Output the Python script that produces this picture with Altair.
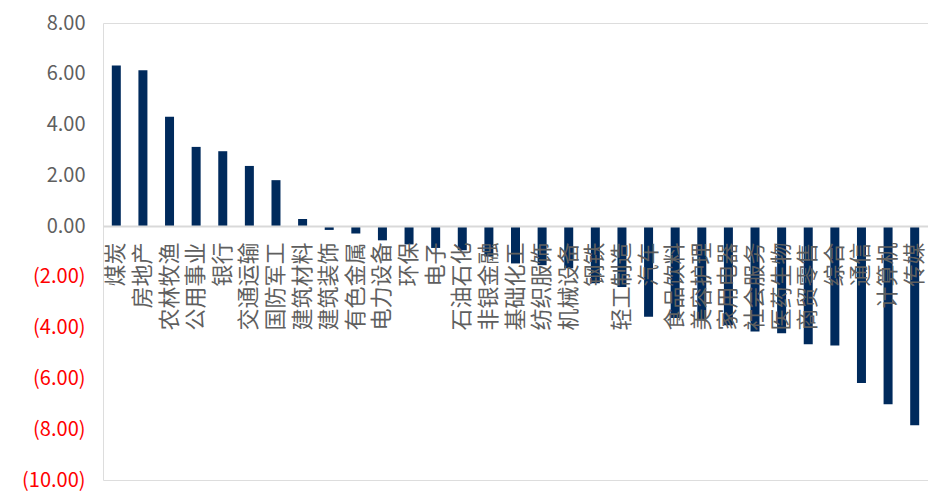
import altair as alt
import pandas as pd

industries = ["煤炭", "房地产", "农林牧渔", "公用事业", "银行", "交通运输", "国防军工", "建筑材料",
              "建筑装饰", "有色金属", "电力设备", "环保", "电子", "石油石化", "非银金融", "基础化工",
              "纺织服饰", "机械设备", "钢铁", "轻工制造", "汽车", "食品饮料", "美容护理", "家用电器",
              "社会服务", "医药生物", "商贸零售", "综合", "通信", "计算机", "传媒"]
values = [6.33, 6.14, 4.31, 3.12, 2.95, 2.37, 1.81, 0.28,
          -0.15, -0.29, -0.56, -0.72, -0.86, -0.95, -1.20, -1.47,
          -1.54, -1.66, -2.25, -2.40, -3.57, -3.62, -3.72, -3.90,
          -4.15, -4.22, -4.65, -4.70, -6.18, -7.02, -7.84]
y_ticks = [-10, -8, -6, -4, -2, 0, 2, 4, 6, 8]

df = pd.DataFrame({"industry": industries, "value": values})

font = "Noto Sans CJK SC"

chart = alt.Chart(df).mark_bar(size=9, color="#002a5c").encode(
    x=alt.X("industry:N", sort=industries, title=None,
            scale=alt.Scale(paddingInner=0, paddingOuter=0),
            axis=alt.Axis(labelAngle=-90, labelAlign="right", labelBaseline="middle",
                          labelFont=font, labelFontSize=22, labelColor="#5f5f5f",
                          labelPadding=16, ticks=False, domainColor="#d9d9d9",
                          domainWidth=2, offset=-254, zindex=1, labelOverlap=False)),
    y=alt.Y("value:Q", title=None,
            scale=alt.Scale(domain=[-10, 8], nice=False, zero=False),
            axis=alt.Axis(values=y_ticks, grid=False, domain=False, ticks=False,
                          labelFont=font, labelFontSize=20, labelPadding=18,
                          labelExpr="datum.value < 0 ? '(' + format(-datum.value, '.2f') + ')' : format(datum.value, '.2f')",
                          labelColor=alt.condition("datum.value < 0", alt.value("#ff0000"), alt.value("#5f5f5f")))),
).properties(
    width=825, height=457,
    autosize=alt.AutoSizeParams(type="none"),
    padding={"left": 103, "top": 23, "right": 0, "bottom": 11},
).configure_view(stroke=None).configure(background="white")

chart.save("out.html", embed_options={"renderer": "svg", "actions": False})
